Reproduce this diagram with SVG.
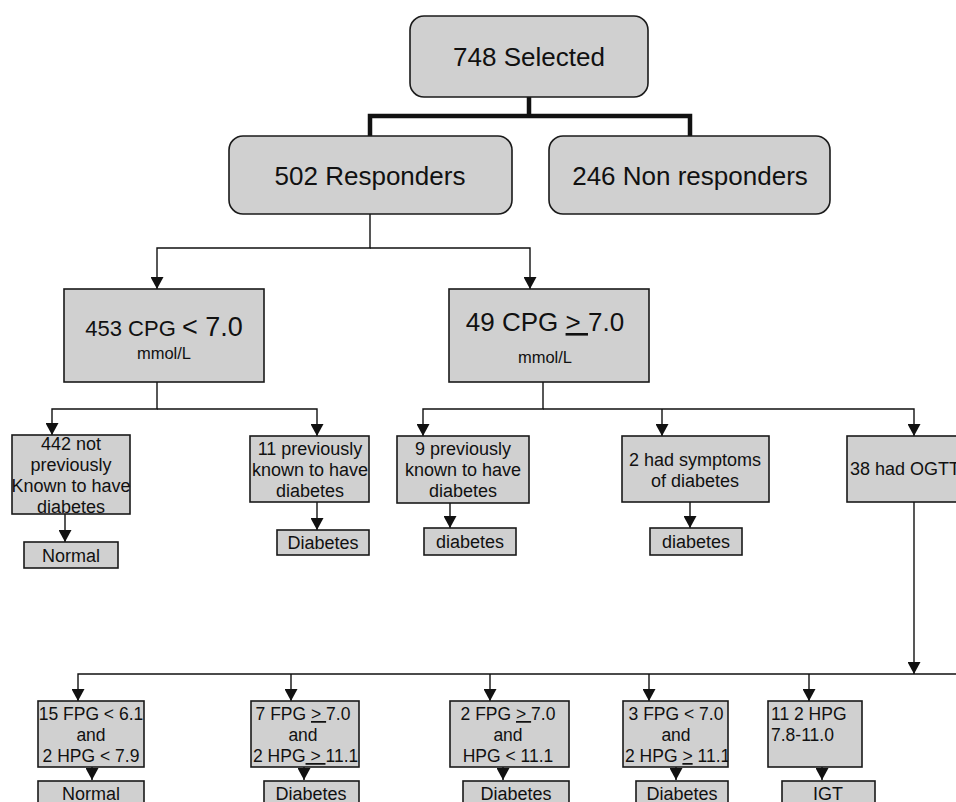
<svg xmlns="http://www.w3.org/2000/svg" width="956" height="802" viewBox="0 0 956 802">
<style>
.box{fill:#d0d0d0;stroke:#1a1a1a;stroke-width:1.6}
.t{font-family:"Liberation Sans",Arial,sans-serif;fill:#111;text-anchor:middle}
.t26{font-size:26px}
.t18{font-size:18px}
.t17{font-size:17.5px}
.c{fill:none;stroke:#111;stroke-width:1.4}
.thick{fill:none;stroke:#111;stroke-width:4.5}
.u{text-decoration:underline}
</style>
<defs>
<marker id="ah" markerUnits="userSpaceOnUse" markerWidth="13" markerHeight="13" refX="12" refY="6.5" orient="auto">
<path d="M0,0 L12,6.5 L0,13 Z" fill="#111"/>
</marker>
<clipPath id="clip7"><rect x="251" y="701" width="108" height="66"/></clipPath>
<clipPath id="clip3"><rect x="623" y="701" width="105" height="66"/></clipPath>
</defs>

<g id="connectors">
<path class="thick" d="M529,97 V116 M370,137 V116 H690 V137"/>
<path class="c" d="M370,214 V248 H157 V289" marker-end="url(#ah)"/>
<path class="c" d="M370,248 H530 V289" marker-end="url(#ah)"/>
<path class="c" d="M157,382 V409 H52 V435" marker-end="url(#ah)"/>
<path class="c" d="M157,409 H317 V436" marker-end="url(#ah)"/>
<path class="c" d="M543,382 V409 H423 V436" marker-end="url(#ah)"/>
<path class="c" d="M543,409 H914 V436" marker-end="url(#ah)"/>
<path class="c" d="M662,409 V436" marker-end="url(#ah)"/>
<path class="c" d="M65,514 V542" marker-end="url(#ah)"/>
<path class="c" d="M317,502 V530" marker-end="url(#ah)"/>
<path class="c" d="M450,503 V528" marker-end="url(#ah)"/>
<path class="c" d="M690,502 V528" marker-end="url(#ah)"/>
<path class="c" d="M914,502 V674" marker-end="url(#ah)"/>
<path class="c" d="M956,674 H78 V701" marker-end="url(#ah)"/>
<path class="c" d="M291,674 V701" marker-end="url(#ah)"/>
<path class="c" d="M490,674 V701" marker-end="url(#ah)"/>
<path class="c" d="M649,674 V701" marker-end="url(#ah)"/>
<path class="c" d="M809,674 V701" marker-end="url(#ah)"/>
<path class="c" d="M92,767 V780" marker-end="url(#ah)"/>
<path class="c" d="M304,767 V780" marker-end="url(#ah)"/>
<path class="c" d="M503,767 V780" marker-end="url(#ah)"/>
<path class="c" d="M676,767 V780" marker-end="url(#ah)"/>
<path class="c" d="M822,767 V780" marker-end="url(#ah)"/>
</g>

<g id="selected">
<rect class="box" x="410" y="16" width="238" height="81" rx="14"/>
<text class="t t26" x="529" y="66">748 Selected</text>
</g>
<g id="responders">
<rect class="box" x="229" y="136" width="283" height="78" rx="14"/>
<text class="t t26" x="370" y="185">502 Responders</text>
</g>
<g id="nonresponders">
<rect class="box" x="549" y="136" width="281" height="78" rx="14"/>
<text class="t t26" x="690" y="185">246 Non responders</text>
</g>

<g id="cpg-low">
<rect class="box" x="64" y="289" width="200" height="93"/>
<text class="t" x="164" y="336"><tspan font-size="22px">453 CPG </tspan><tspan font-size="27px">&lt; 7.0</tspan></text>
<text class="t" x="164" y="359" font-size="16.5px">mmol/L</text>
</g>
<g id="cpg-high">
<rect class="box" x="449" y="289" width="200" height="93"/>
<text class="t t26" x="545" y="331">49 CPG <tspan class="u">&gt; </tspan>7.0</text>
<text class="t" x="545" y="363" font-size="16.5px">mmol/L</text>
</g>

<g id="n442">
<rect class="box" x="12" y="435" width="118" height="79"/>
<text class="t t18" x="71" y="450">442 not</text>
<text class="t t18" x="71" y="471">previously</text>
<text class="t t18" x="71" y="492">Known to have</text>
<text class="t t18" x="71" y="513">diabetes</text>
</g>
<g id="normal1">
<rect class="box" x="24" y="542" width="94" height="26"/>
<text class="t t18" x="71" y="562">Normal</text>
</g>
<g id="n11">
<rect class="box" x="250" y="436" width="119" height="66"/>
<text class="t t18" x="310" y="455">11 previously</text>
<text class="t t18" x="310" y="476">known to have</text>
<text class="t t18" x="310" y="497">diabetes</text>
</g>
<g id="diab1">
<rect class="box" x="277" y="530" width="92" height="25"/>
<text class="t t18" x="323" y="549">Diabetes</text>
</g>
<g id="n9">
<rect class="box" x="397" y="436" width="132" height="67"/>
<text class="t t18" x="463" y="455">9 previously</text>
<text class="t t18" x="463" y="476">known to have</text>
<text class="t t18" x="463" y="497">diabetes</text>
</g>
<g id="diab2">
<rect class="box" x="424" y="528" width="92" height="27"/>
<text class="t t18" x="470" y="548">diabetes</text>
</g>
<g id="n2sym">
<rect class="box" x="622" y="436" width="147" height="66"/>
<text class="t t18" x="695" y="466">2 had symptoms</text>
<text class="t t18" x="695" y="487">of diabetes</text>
</g>
<g id="diab3">
<rect class="box" x="650" y="528" width="92" height="27"/>
<text class="t t18" x="696" y="548">diabetes</text>
</g>
<g id="ogtt">
<rect class="box" x="847" y="436" width="130" height="66"/>
<text class="t t18" x="850" y="475" text-anchor="start" style="text-anchor:start">38 had OGTT</text>
</g>

<g id="f15">
<rect class="box" x="38" y="701" width="106" height="66"/>
<text class="t t17" x="91" y="720">15 FPG &lt; 6.1</text>
<text class="t t17" x="91" y="741">and</text>
<text class="t t17" x="91" y="762">2 HPG &lt; 7.9</text>
</g>
<g id="normal2">
<rect class="box" x="38" y="781" width="106" height="30"/>
<text class="t t18" x="91" y="800">Normal</text>
</g>
<g id="f7">
<rect class="box" x="251" y="701" width="108" height="66"/>
<g clip-path="url(#clip7)">
<text class="t t17" x="303" y="720">7 FPG <tspan class="u">&gt; </tspan>7.0</text>
<text class="t t17" x="303" y="741">and</text>
<text class="t t17" x="253" y="762" style="text-anchor:start">2 HPG<tspan class="u"> &gt; </tspan>11.1</text>
</g>
</g>
<g id="diab4">
<rect class="box" x="264" y="781" width="95" height="30"/>
<text class="t t18" x="311" y="800">Diabetes</text>
</g>
<g id="f2">
<rect class="box" x="450" y="701" width="119" height="66"/>
<text class="t t17" x="508" y="720">2 FPG <tspan class="u">&gt; </tspan>7.0</text>
<text class="t t17" x="508" y="741">and</text>
<text class="t t17" x="508" y="762">HPG &lt; 11.1</text>
</g>
<g id="diab5">
<rect class="box" x="463" y="781" width="106" height="30"/>
<text class="t t18" x="516" y="800">Diabetes</text>
</g>
<g id="f3">
<rect class="box" x="623" y="701" width="105" height="66"/>
<g clip-path="url(#clip3)">
<text class="t t17" x="676" y="720">3 FPG &lt; 7.0</text>
<text class="t t17" x="676" y="741">and</text>
<text class="t t17" x="625" y="762" style="text-anchor:start">2 HPG <tspan class="u">&gt;</tspan> 11.1</text>
</g>
</g>
<g id="diab6">
<rect class="box" x="636" y="781" width="92" height="30"/>
<text class="t t18" x="682" y="800">Diabetes</text>
</g>
<g id="hpg11">
<rect class="box" x="768" y="701" width="94" height="66"/>
<text class="t t17" x="771" y="720" style="text-anchor:start">11 2 HPG</text>
<text class="t t17" x="771" y="741" style="text-anchor:start">7.8-11.0</text>
</g>
<g id="igt">
<rect class="box" x="782" y="781" width="93" height="30"/>
<text class="t t18" x="828" y="800">IGT</text>
</g>
</svg>
